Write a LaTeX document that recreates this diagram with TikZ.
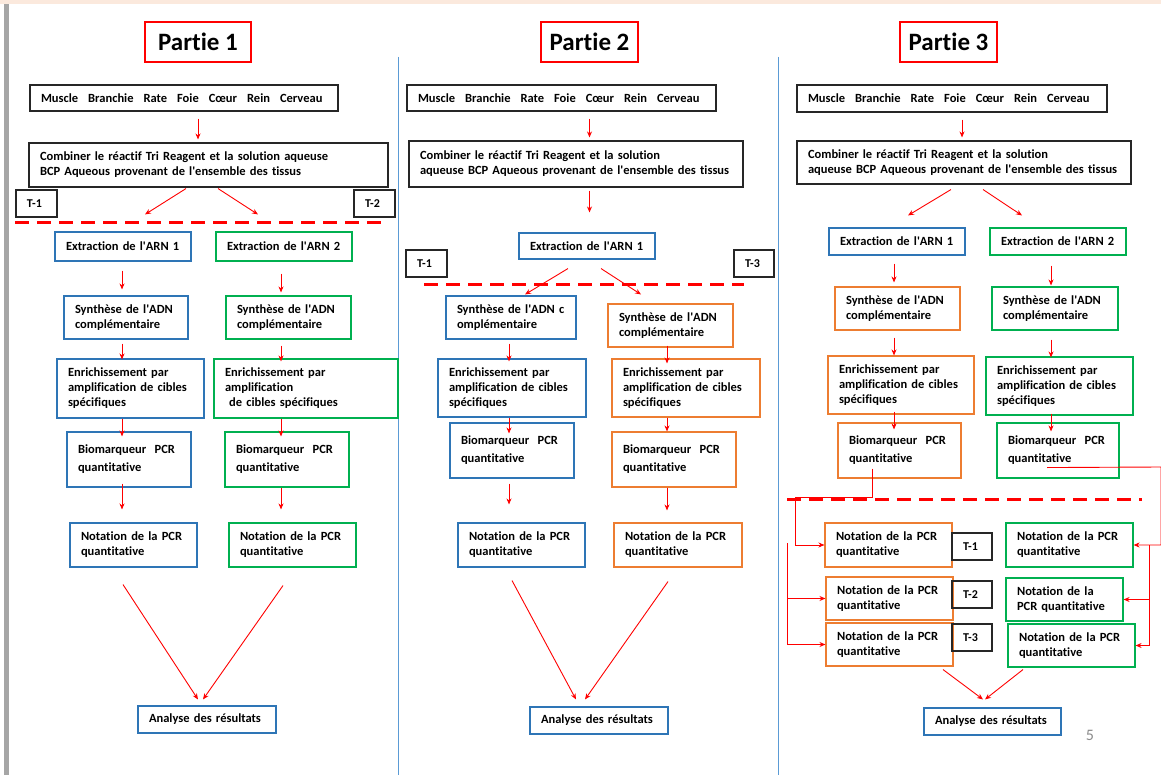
\documentclass[tikz,border=0pt]{standalone}
\usepackage{fontspec}
\setmainfont{Carlito}[Ligatures=NoCommon]
\usetikzlibrary{positioning,arrows.meta}
\definecolor{arnblue}{RGB}{46,117,182}
\definecolor{arngreen}{RGB}{0,176,80}
\definecolor{arnorange}{RGB}{237,125,49}
\definecolor{divblue}{RGB}{91,155,213}
\definecolor{peach}{RGB}{251,233,221}
\newcommand{\txt}{\fontsize{12.5}{15}\selectfont\bfseries}
\newcommand{\ap}{\textquotesingle}
\newcommand{\gap}{\hspace{10pt}}

\begin{document}
\begin{tikzpicture}[
    x=1pt, y=-1pt,
    every node/.style={draw, line width=1.1pt, align=left, inner xsep=11pt, inner ysep=2pt, font=\txt},
    sz/.style 2 args={minimum width=#1pt, minimum height=#2pt, text width=#1pt-22pt},
    noir/.style={draw=black!85},
    bleu/.style={draw=arnblue},
    vert/.style={draw=arngreen},
    orng/.style={draw=arnorange},
    bio/.style={font=\fontsize{12.5}{18}\selectfont\bfseries},
    titre/.style={draw=red, line width=2.2pt, align=center, inner xsep=2pt, minimum height=40pt, font=\fontsize{25}{28}\selectfont\bfseries},
    tbox/.style={draw=black!85, font=\fontsize{12}{14}\selectfont\bfseries},
    fl/.style={draw=red, line width=0.9pt, -{Stealth[length=6pt,width=5pt]}},
    sh/.style 2 args={shorten <=#1pt, shorten >=#2pt},
    coupe/.style={draw=red, line width=3pt, dash pattern=on 14pt off 8pt}
]
    % page
    \useasboundingbox (0,0) rectangle (1161,775);
    \fill[white] (0,0) rectangle (1161,775);
    \fill[peach] (0,0) rectangle (1161,4);
    \fill[black!35] (4,4) rectangle (9,775);
    \draw[divblue, line width=0.8pt] (398,57) -- (398,775);
    \draw[divblue, line width=0.8pt] (778,57) -- (778,775);

    % Partie 1
    \node[titre, minimum width=106pt] (aTitre) at (198,42) {Partie 1};
    \node[noir, sz={308}{26}] (aTissus) at (184,98) {Muscle\gap Branchie\gap Rate\gap Foie\gap Cœur\gap Rein\gap Cerveau};
    \node[noir, sz={359}{44}] (aComb) at (208.5,165) {Combiner le réactif Tri Reagent et la solution aqueuse\\BCP Aqueous provenant de l\ap ensemble des tissus};
    \node[tbox, sz={41}{27}] (aT1) at (36.5,203.5) {T-1};
    \node[tbox, sz={41}{27}] (aT2) at (374.5,203.5) {T-2};
    \node[bleu, sz={136}{29}] (aE1) at (123,246.5) {Extraction de l\ap ARN 1};
    \node[vert, sz={136}{29}] (aE2) at (284,246.5) {Extraction de l\ap ARN 2};
    \node[bleu, sz={124}{43}] (aS1) at (126,317.5) {Synthèse de l\ap ADN\\complémentaire};
    \node[vert, sz={125}{43}] (aS2) at (288.5,317.5) {Synthèse de l\ap ADN\\complémentaire};
    \node[bleu, sz={147}{59}] (aR1) at (130.5,388.5) {Enrichissement par\\amplification de cibles\\spécifiques};
    \node[vert, sz={184}{59}] (aR2) at (306,388.5) {Enrichissement par\\amplification\\\ de cibles spécifiques};
    \node[bleu, bio, sz={124}{55}] (aB1) at (129,459.5) {Biomarqueur~~PCR\\quantitative};
    \node[vert, bio, sz={124}{55}] (aB2) at (287,459.5) {Biomarqueur~~PCR\\quantitative};
    \node[bleu, sz={127}{44}] (aN1) at (133.5,545) {Notation de la PCR\\quantitative};
    \node[vert, sz={127}{44}] (aN2) at (292.5,545) {Notation de la PCR\\quantitative};
    \node[bleu, sz={138}{27}] (aA) at (207,719.5) {Analyse des résultats};
    \coordinate (ax1) at (122,0);
    \coordinate (ax2) at (281,0);
    \draw[coupe] (15,223) -- (382,223);

    \draw[fl, sh={7}{3}] (aTissus.south -| aTitre) -- (aComb.north -| aTitre);
    \draw[fl] ([xshift=-22.5pt,yshift=-1pt]aComb.south) -- ([xshift=22pt,yshift=17pt]aE1.north);
    \draw[fl] ([xshift=9.5pt,yshift=-1pt]aComb.south) -- ([xshift=-26pt,yshift=17pt]aE2.north);
    \draw[fl, sh={9}{6}] (aE1.south -| ax1) -- (aS1.north -| ax1);
    \draw[fl, sh={4}{-1}] (aS1.south -| ax1) -- (aR1.north -| ax1);
    \draw[fl, sh={0}{-5}] (aR1.south -| ax1) -- (aB1.north -| ax1);
    \draw[fl, sh={-4}{13}] (aB1.south -| ax1) -- (aN1.north -| ax1);
    \draw[fl, sh={12}{3}] (aE2.south -| ax2) -- (aS2.north -| ax2);
    \draw[fl, sh={6}{-3}] (aS2.south -| ax2) -- (aR2.north -| ax2);
    \draw[fl, sh={0}{-5}] (aR2.south -| ax2) -- (aB2.north -| ax2);
    \draw[fl, sh={0}{13}] (aB2.south -| ax2) -- (aN2.north -| ax2);
    \draw[fl] ([xshift=-10.5pt,yshift=-17pt]aN1.south) -- ([xshift=-9pt,yshift=6pt]aA.north);
    \draw[fl] ([xshift=-9.5pt,yshift=-18pt]aN2.south) -- ([xshift=-4pt,yshift=6pt]aA.north);

    % Partie 2
    \node[titre, minimum width=97pt] (bTitre) at (589.5,42) {Partie 2};
    \node[noir, sz={309}{26}] (bTissus) at (561.5,98) {Muscle\gap Branchie\gap Rate\gap Foie\gap Cœur\gap Rein\gap Cerveau};
    \node[noir, sz={334}{46}] (bComb) at (576,164) {Combiner le réactif Tri Reagent et la solution\\aqueuse BCP Aqueous provenant de l\ap ensemble des tissus};
    \node[bleu, sz={136}{26}] (bE) at (587,246) {Extraction de l\ap ARN 1};
    \node[tbox, sz={41}{27}] (bT1) at (426.5,263.5) {T-1};
    \node[tbox, sz={40}{27}] (bT3) at (754,263.5) {T-3};
    \node[bleu, sz={130}{43}] (bS1) at (511,317.5) {Synthèse de l\ap ADN c\\omplémentaire};
    \node[orng, sz={125}{43}] (bS2) at (670.5,325.5) {Synthèse de l\ap ADN\\complémentaire};
    \node[bleu, sz={148}{58}] (bR1) at (512,388) {Enrichissement par\\amplification de cibles\\spécifiques};
    \node[orng, sz={148}{58}] (bR2) at (686,388) {Enrichissement par\\amplification de cibles\\spécifiques};
    \node[bleu, bio, sz={124}{55}] (bB1) at (512,450.5) {Biomarqueur~~PCR\\quantitative};
    \node[orng, bio, sz={124}{55}] (bB2) at (674,459.5) {Biomarqueur~~PCR\\quantitative};
    \node[bleu, sz={127}{44}] (bN1) at (521.5,545) {Notation de la PCR\\quantitative};
    \node[orng, sz={128}{44}] (bN2) at (678,545) {Notation de la PCR\\quantitative};
    \node[bleu, sz={138}{27}] (bA) at (599,720.5) {Analyse des résultats};
    \coordinate (bx1) at (509,0);
    \coordinate (bx2) at (667,0);
    \draw[coupe] (424,285) -- (744,285);

    \draw[fl, sh={7}{3}] (bTissus.south -| bTitre) -- (bComb.north -| bTitre);
    \draw[fl, sh={3}{20}] (bComb.south -| bTitre) -- (bE.north -| bTitre);
    \draw[fl] ([xshift=-19pt,yshift=-9pt]bE.south) -- ([xshift=14pt,yshift=1pt]bS1.north);
    \draw[fl] ([xshift=14pt,yshift=-9pt]bE.south) -- ([xshift=-29.5pt,yshift=9pt]bS2.north);
    \draw[fl, sh={4}{-3}] (bS1.south -| bx1) -- (bR1.north -| bx1);
    \draw[fl, sh={0}{-11}] (bR1.south -| bx1) -- (bB1.north -| bx1);
    \draw[fl, sh={5}{18}] (bB1.south -| bx1) -- (bN1.north -| bx1);
    \draw[fl, sh={-2}{-5}] (bS2.south -| bx2) -- (bR2.north -| bx2);
    \draw[fl, sh={0}{0}] (bR2.south -| bx2) -- (bB2.north -| bx2);
    \draw[fl, sh={0}{12}] (bB2.south -| bx2) -- (bN2.north -| bx2);
    \draw[fl] ([xshift=-9.5pt,yshift=-13pt]bN1.south) -- ([xshift=-23pt,yshift=7pt]bA.north);
    \draw[fl] ([xshift=-10pt,yshift=-14pt]bN2.south) -- ([xshift=-14pt,yshift=7pt]bA.north);

    % Partie 3
    \node[titre, minimum width=97pt] (cTitre) at (948.5,42) {Partie 3};
    \node[noir, sz={310}{27}] (cTissus) at (952,98.5) {Muscle\gap Branchie\gap Rate\gap Foie\gap Cœur\gap Rein\gap Cerveau};
    \node[noir, sz={334}{43}] (cComb) at (964,162.5) {Combiner le réactif Tri Reagent et la solution\\aqueuse BCP Aqueous provenant de l\ap ensemble des tissus};
    \node[bleu, sz={136}{27}] (cE1) at (897,241.5) {Extraction de l\ap ARN 1};
    \node[vert, sz={136}{27}] (cE2) at (1058,241.5) {Extraction de l\ap ARN 2};
    \node[orng, sz={125}{43}] (cS1) at (897.5,308.5) {Synthèse de l\ap ADN\\complémentaire};
    \node[vert, sz={126}{43}] (cS2) at (1055,308.5) {Synthèse de l\ap ADN\\complémentaire};
    \node[orng, sz={146}{58}] (cR1) at (901,385) {Enrichissement par\\amplification de cibles\\spécifiques};
    \node[vert, sz={147}{58}] (cR2) at (1059.5,386) {Enrichissement par\\amplification de cibles\\spécifiques};
    \node[orng, bio, sz={123}{55}] (cB1) at (899.5,450.5) {Biomarqueur~~PCR\\quantitative};
    \node[vert, bio, sz={122}{55}] (cB2) at (1058,450.5) {Biomarqueur~~PCR\\quantitative};
    \node[orng, sz={127}{44}] (cN1) at (888.5,545) {Notation de la PCR\\quantitative};
    \node[orng, sz={127}{43}] (cN2) at (889.5,598.5) {Notation de la PCR\\quantitative};
    \node[orng, sz={127}{43}] (cN3) at (889.5,644.5) {Notation de la PCR\\quantitative};
    \node[tbox, sz={40}{27}] (cT1) at (972,546.5) {T-1};
    \node[tbox, sz={40}{27}] (cT2) at (972,594.5) {T-2};
    \node[tbox, sz={40}{27}] (cT3) at (972,637.5) {T-3};
    \node[vert, sz={127}{44}] (cM1) at (1069.5,545) {Notation de la PCR\\quantitative};
    \node[vert, sz={117}{43}] (cM2) at (1064.5,599.5) {Notation de la\\PCR quantitative};
    \node[vert, sz={127}{43}] (cM3) at (1071.5,645.5) {Notation de la PCR\\quantitative};
    \node[bleu, sz={137}{27}] (cA) at (992.5,721.5) {Analyse des résultats};
    \node[draw=none, text=black!45, font=\fontsize{16}{18}\selectfont] (page) at (1090,735) {5};
    \coordinate (cx0) at (962,0);
    \coordinate (cx1) at (894,0);
    \coordinate (cx2) at (1051,0);
    \coordinate (cg1) at (795,497);
    \coordinate (cg2) at (787,543);
    \coordinate (cd1) at (1161,467);
    \coordinate (cd2) at (1149,545);
    \draw[coupe] (787,499) -- (1142,499);

    \draw[fl, sh={7}{3}] (cTissus.south -| cx0) -- (cComb.north -| cx0);
    \draw[fl] ([xshift=-13pt,yshift=-5pt]cComb.south) -- ([xshift=11pt,yshift=12pt]cE1.north);
    \draw[fl] ([xshift=19pt,yshift=-5pt]cComb.south) -- ([xshift=-36pt,yshift=12pt]cE2.north);
    \draw[fl, sh={8}{4}] (cE1.south -| cx1) -- (cS1.north -| cx1);
    \draw[fl, sh={7}{0}] (cS1.south -| cx1) -- (cR1.north -| cx1);
    \draw[fl, sh={-3}{-7}] (cR1.south -| cx1) -- (cB1.north -| cx1);
    \draw[fl, sh={10}{1}] (cE2.south -| cx2) -- (cS2.north -| cx2);
    \draw[fl, sh={9}{-1}] (cS2.south -| cx2) -- (cR2.north -| cx2);
    \draw[fl, sh={-2}{-9}] (cR2.south -| cx2) -- (cB2.north -| cx2);
    \draw[fl] ([xshift=-27.5pt,yshift=10pt]cB1.south) |- (cg1) |- (cN1.west);
    \draw[fl] (cg2) |- (cN2.west);
    \draw[fl] (cg2) |- (cN3.west);
    \draw[fl] ([xshift=-11pt,yshift=11pt]cB2.south) -- (cd1) |- (cM1.east);
    \draw[fl] (cd2) |- (cM2.east);
    \draw[fl] (cd2) |- (cM3.east);
    \draw[fl] ([xshift=53.5pt,yshift=-3pt]cN3.south) -- ([xshift=-9.5pt,yshift=8pt]cA.north);
    \draw[fl] ([xshift=-48.5pt,yshift=-2pt]cM3.south) -- ([xshift=-7.5pt,yshift=8pt]cA.north);
\end{tikzpicture}
\end{document}
